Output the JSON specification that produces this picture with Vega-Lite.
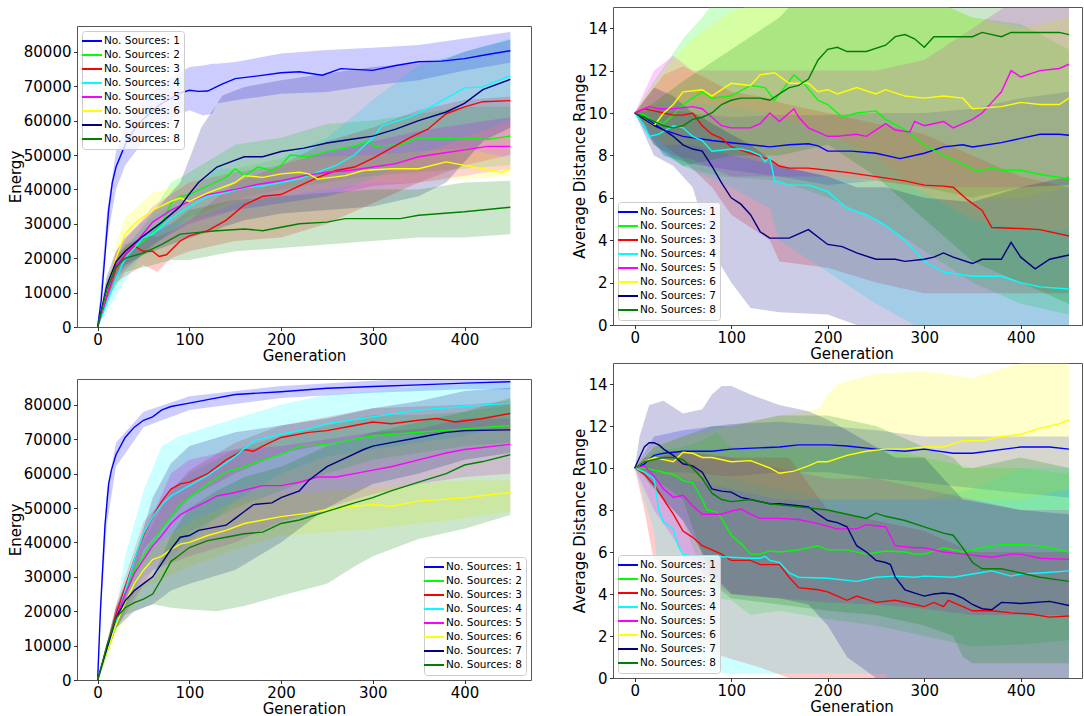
{
"$schema":"https://vega.github.io/schema/vega-lite/v6.json",
"padding":{"left":7,"top":6,"right":0,"bottom":0},
"background":"white",
"config":{
"font":"DejaVu Sans",
"view":{"stroke":"#555555","strokeWidth":1,"fill":"white"},
"axis":{"labelFont":"DejaVu Sans","labelFontSize":15,"labelColor":"#000","titleFont":"DejaVu Sans","titleFontSize":15,"titleFontWeight":"normal","titleColor":"#000","tickColor":"#000","tickSize":3.5,"tickWidth":0.8,"labelPadding":2.5,"domain":false,"grid":false,"labelFlush":false,"labelOverlap":false},
"axisX":{"titlePadding":1,"labelPadding":1.5},
"axisY":{"titlePadding":0},
"legend":{"labelFont":"DejaVu Sans","labelFontSize":10.5,"labelColor":"#000","fillColor":"rgba(255,255,255,0.8)","strokeColor":"#cccccc","cornerRadius":3,"padding":4,"rowPadding":2,"symbolType":"M-2,0H2","symbolSize":100,"symbolStrokeWidth":2,"labelOffset":6}
},
"datasets":{
"lines":[
{"p":"a","s":1,"g":0,"v":0},{"p":"a","s":1,"g":4,"v":8000},{"p":"a","s":1,"g":8,"v":21000},{"p":"a","s":1,"g":12,"v":34000},{"p":"a","s":1,"g":16,"v":42000},{"p":"a","s":1,"g":20,"v":46500},{"p":"a","s":1,"g":30,"v":53000},{"p":"a","s":1,"g":40,"v":57500},{"p":"a","s":1,"g":50,"v":60500},{"p":"a","s":1,"g":60,"v":63000},{"p":"a","s":1,"g":70,"v":65000},{"p":"a","s":1,"g":80,"v":66500},{"p":"a","s":1,"g":90,"v":68000},{"p":"a","s":1,"g":100,"v":68800},{"p":"a","s":1,"g":110,"v":68500},{"p":"a","s":1,"g":120,"v":68600},{"p":"a","s":1,"g":135,"v":70500},{"p":"a","s":1,"g":150,"v":72200},{"p":"a","s":1,"g":175,"v":73000},{"p":"a","s":1,"g":200,"v":73900},{"p":"a","s":1,"g":220,"v":74200},{"p":"a","s":1,"g":245,"v":73200},{"p":"a","s":1,"g":265,"v":75100},{"p":"a","s":1,"g":300,"v":74600},{"p":"a","s":1,"g":325,"v":76000},{"p":"a","s":1,"g":350,"v":77100},{"p":"a","s":1,"g":375,"v":77300},{"p":"a","s":1,"g":400,"v":78000},{"p":"a","s":1,"g":425,"v":79200},{"p":"a","s":1,"g":450,"v":80300},
{"p":"a","s":2,"g":0,"v":0},{"p":"a","s":2,"g":10,"v":11000},{"p":"a","s":2,"g":20,"v":18000},{"p":"a","s":2,"g":30,"v":21000},{"p":"a","s":2,"g":50,"v":25000},{"p":"a","s":2,"g":70,"v":30000},{"p":"a","s":2,"g":80,"v":36000},{"p":"a","s":2,"g":90,"v":38000},{"p":"a","s":2,"g":100,"v":38500},{"p":"a","s":2,"g":120,"v":41000},{"p":"a","s":2,"g":140,"v":43500},{"p":"a","s":2,"g":150,"v":46000},{"p":"a","s":2,"g":160,"v":44000},{"p":"a","s":2,"g":175,"v":46500},{"p":"a","s":2,"g":190,"v":45500},{"p":"a","s":2,"g":200,"v":47000},{"p":"a","s":2,"g":210,"v":50000},{"p":"a","s":2,"g":230,"v":49500},{"p":"a","s":2,"g":250,"v":51000},{"p":"a","s":2,"g":280,"v":52500},{"p":"a","s":2,"g":295,"v":54000},{"p":"a","s":2,"g":302,"v":52500},{"p":"a","s":2,"g":330,"v":53000},{"p":"a","s":2,"g":350,"v":55000},{"p":"a","s":2,"g":375,"v":54800},{"p":"a","s":2,"g":400,"v":55000},{"p":"a","s":2,"g":425,"v":54500},{"p":"a","s":2,"g":450,"v":55500},
{"p":"a","s":3,"g":0,"v":0},{"p":"a","s":3,"g":10,"v":9000},{"p":"a","s":3,"g":20,"v":17000},{"p":"a","s":3,"g":30,"v":21000},{"p":"a","s":3,"g":40,"v":23500},{"p":"a","s":3,"g":50,"v":22000},{"p":"a","s":3,"g":60,"v":22000},{"p":"a","s":3,"g":67,"v":20500},{"p":"a","s":3,"g":75,"v":21000},{"p":"a","s":3,"g":90,"v":25000},{"p":"a","s":3,"g":100,"v":26500},{"p":"a","s":3,"g":120,"v":28000},{"p":"a","s":3,"g":140,"v":31000},{"p":"a","s":3,"g":160,"v":35500},{"p":"a","s":3,"g":180,"v":38000},{"p":"a","s":3,"g":200,"v":38500},{"p":"a","s":3,"g":220,"v":41000},{"p":"a","s":3,"g":240,"v":43500},{"p":"a","s":3,"g":260,"v":45500},{"p":"a","s":3,"g":280,"v":46500},{"p":"a","s":3,"g":300,"v":49000},{"p":"a","s":3,"g":320,"v":52000},{"p":"a","s":3,"g":340,"v":55000},{"p":"a","s":3,"g":360,"v":57500},{"p":"a","s":3,"g":380,"v":62000},{"p":"a","s":3,"g":400,"v":64000},{"p":"a","s":3,"g":420,"v":65500},{"p":"a","s":3,"g":450,"v":65800},
{"p":"a","s":4,"g":0,"v":0},{"p":"a","s":4,"g":10,"v":7000},{"p":"a","s":4,"g":20,"v":14000},{"p":"a","s":4,"g":30,"v":20000},{"p":"a","s":4,"g":50,"v":26000},{"p":"a","s":4,"g":60,"v":27000},{"p":"a","s":4,"g":80,"v":31500},{"p":"a","s":4,"g":100,"v":35000},{"p":"a","s":4,"g":120,"v":38000},{"p":"a","s":4,"g":140,"v":39000},{"p":"a","s":4,"g":160,"v":40500},{"p":"a","s":4,"g":180,"v":41000},{"p":"a","s":4,"g":200,"v":42000},{"p":"a","s":4,"g":220,"v":43000},{"p":"a","s":4,"g":240,"v":45000},{"p":"a","s":4,"g":260,"v":47000},{"p":"a","s":4,"g":280,"v":50000},{"p":"a","s":4,"g":300,"v":55000},{"p":"a","s":4,"g":310,"v":58500},{"p":"a","s":4,"g":340,"v":61000},{"p":"a","s":4,"g":360,"v":63500},{"p":"a","s":4,"g":380,"v":66500},{"p":"a","s":4,"g":400,"v":69500},{"p":"a","s":4,"g":420,"v":69800},{"p":"a","s":4,"g":440,"v":72000},{"p":"a","s":4,"g":450,"v":73000},
{"p":"a","s":5,"g":0,"v":0},{"p":"a","s":5,"g":10,"v":9000},{"p":"a","s":5,"g":20,"v":18000},{"p":"a","s":5,"g":40,"v":24000},{"p":"a","s":5,"g":60,"v":30500},{"p":"a","s":5,"g":80,"v":34000},{"p":"a","s":5,"g":100,"v":36500},{"p":"a","s":5,"g":120,"v":38500},{"p":"a","s":5,"g":150,"v":40000},{"p":"a","s":5,"g":175,"v":41500},{"p":"a","s":5,"g":200,"v":42500},{"p":"a","s":5,"g":225,"v":44000},{"p":"a","s":5,"g":250,"v":45000},{"p":"a","s":5,"g":275,"v":45500},{"p":"a","s":5,"g":300,"v":46500},{"p":"a","s":5,"g":325,"v":47500},{"p":"a","s":5,"g":350,"v":49500},{"p":"a","s":5,"g":375,"v":50500},{"p":"a","s":5,"g":400,"v":51500},{"p":"a","s":5,"g":425,"v":52500},{"p":"a","s":5,"g":450,"v":52500},
{"p":"a","s":6,"g":0,"v":0},{"p":"a","s":6,"g":10,"v":11000},{"p":"a","s":6,"g":20,"v":20000},{"p":"a","s":6,"g":30,"v":27000},{"p":"a","s":6,"g":40,"v":30000},{"p":"a","s":6,"g":60,"v":34000},{"p":"a","s":6,"g":80,"v":36500},{"p":"a","s":6,"g":90,"v":37500},{"p":"a","s":6,"g":100,"v":36500},{"p":"a","s":6,"g":120,"v":39000},{"p":"a","s":6,"g":150,"v":42000},{"p":"a","s":6,"g":160,"v":44000},{"p":"a","s":6,"g":180,"v":43500},{"p":"a","s":6,"g":200,"v":44500},{"p":"a","s":6,"g":220,"v":45000},{"p":"a","s":6,"g":230,"v":44500},{"p":"a","s":6,"g":240,"v":43000},{"p":"a","s":6,"g":270,"v":44000},{"p":"a","s":6,"g":290,"v":45500},{"p":"a","s":6,"g":320,"v":46000},{"p":"a","s":6,"g":350,"v":46000},{"p":"a","s":6,"g":380,"v":48000},{"p":"a","s":6,"g":390,"v":47500},{"p":"a","s":6,"g":420,"v":46000},{"p":"a","s":6,"g":440,"v":45000},{"p":"a","s":6,"g":450,"v":46000},
{"p":"a","s":7,"g":0,"v":0},{"p":"a","s":7,"g":10,"v":12000},{"p":"a","s":7,"g":20,"v":19000},{"p":"a","s":7,"g":30,"v":22000},{"p":"a","s":7,"g":50,"v":26500},{"p":"a","s":7,"g":70,"v":30500},{"p":"a","s":7,"g":90,"v":35000},{"p":"a","s":7,"g":100,"v":38700},{"p":"a","s":7,"g":110,"v":42000},{"p":"a","s":7,"g":130,"v":46500},{"p":"a","s":7,"g":150,"v":48500},{"p":"a","s":7,"g":160,"v":49500},{"p":"a","s":7,"g":180,"v":49500},{"p":"a","s":7,"g":200,"v":51000},{"p":"a","s":7,"g":225,"v":52000},{"p":"a","s":7,"g":250,"v":53500},{"p":"a","s":7,"g":275,"v":54500},{"p":"a","s":7,"g":300,"v":55500},{"p":"a","s":7,"g":325,"v":57500},{"p":"a","s":7,"g":350,"v":60000},{"p":"a","s":7,"g":380,"v":62500},{"p":"a","s":7,"g":400,"v":65000},{"p":"a","s":7,"g":420,"v":69000},{"p":"a","s":7,"g":450,"v":72000},
{"p":"a","s":8,"g":0,"v":0},{"p":"a","s":8,"g":10,"v":11000},{"p":"a","s":8,"g":20,"v":17500},{"p":"a","s":8,"g":30,"v":20000},{"p":"a","s":8,"g":50,"v":21500},{"p":"a","s":8,"g":70,"v":24000},{"p":"a","s":8,"g":90,"v":27000},{"p":"a","s":8,"g":110,"v":27500},{"p":"a","s":8,"g":130,"v":28000},{"p":"a","s":8,"g":160,"v":28500},{"p":"a","s":8,"g":180,"v":28000},{"p":"a","s":8,"g":200,"v":29000},{"p":"a","s":8,"g":220,"v":30000},{"p":"a","s":8,"g":250,"v":30500},{"p":"a","s":8,"g":270,"v":31500},{"p":"a","s":8,"g":300,"v":31500},{"p":"a","s":8,"g":330,"v":31500},{"p":"a","s":8,"g":350,"v":32500},{"p":"a","s":8,"g":400,"v":33500},{"p":"a","s":8,"g":450,"v":34800},
{"p":"b","s":1,"g":0,"v":10},{"p":"b","s":1,"g":10,"v":9.8},{"p":"b","s":1,"g":20,"v":9.5},{"p":"b","s":1,"g":30,"v":9.2},{"p":"b","s":1,"g":50,"v":8.9},{"p":"b","s":1,"g":80,"v":8.7},{"p":"b","s":1,"g":100,"v":8.6},{"p":"b","s":1,"g":120,"v":8.5},{"p":"b","s":1,"g":140,"v":8.4},{"p":"b","s":1,"g":160,"v":8.5},{"p":"b","s":1,"g":180,"v":8.55},{"p":"b","s":1,"g":190,"v":8.45},{"p":"b","s":1,"g":200,"v":8.2},{"p":"b","s":1,"g":225,"v":8.2},{"p":"b","s":1,"g":250,"v":8.1},{"p":"b","s":1,"g":275,"v":7.85},{"p":"b","s":1,"g":300,"v":8.1},{"p":"b","s":1,"g":320,"v":8.4},{"p":"b","s":1,"g":340,"v":8.5},{"p":"b","s":1,"g":350,"v":8.4},{"p":"b","s":1,"g":380,"v":8.6},{"p":"b","s":1,"g":400,"v":8.8},{"p":"b","s":1,"g":420,"v":9.0},{"p":"b","s":1,"g":440,"v":9.0},{"p":"b","s":1,"g":450,"v":8.95},
{"p":"b","s":2,"g":0,"v":10},{"p":"b","s":2,"g":10,"v":9.9},{"p":"b","s":2,"g":20,"v":9.6},{"p":"b","s":2,"g":30,"v":9.5},{"p":"b","s":2,"g":40,"v":9.9},{"p":"b","s":2,"g":50,"v":10.4},{"p":"b","s":2,"g":60,"v":10.7},{"p":"b","s":2,"g":70,"v":11.0},{"p":"b","s":2,"g":80,"v":10.7},{"p":"b","s":2,"g":100,"v":10.8},{"p":"b","s":2,"g":120,"v":11.3},{"p":"b","s":2,"g":135,"v":11.2},{"p":"b","s":2,"g":145,"v":10.6},{"p":"b","s":2,"g":155,"v":11.2},{"p":"b","s":2,"g":165,"v":11.8},{"p":"b","s":2,"g":175,"v":11.4},{"p":"b","s":2,"g":190,"v":10.6},{"p":"b","s":2,"g":200,"v":10.4},{"p":"b","s":2,"g":215,"v":9.8},{"p":"b","s":2,"g":230,"v":10.0},{"p":"b","s":2,"g":250,"v":10.1},{"p":"b","s":2,"g":260,"v":9.7},{"p":"b","s":2,"g":280,"v":9.2},{"p":"b","s":2,"g":300,"v":8.5},{"p":"b","s":2,"g":320,"v":8.0},{"p":"b","s":2,"g":340,"v":7.6},{"p":"b","s":2,"g":355,"v":7.25},{"p":"b","s":2,"g":370,"v":7.4},{"p":"b","s":2,"g":380,"v":7.3},{"p":"b","s":2,"g":400,"v":7.3},{"p":"b","s":2,"g":420,"v":7.1},{"p":"b","s":2,"g":450,"v":6.9},
{"p":"b","s":3,"g":0,"v":10},{"p":"b","s":3,"g":10,"v":10.2},{"p":"b","s":3,"g":20,"v":10.1},{"p":"b","s":3,"g":30,"v":10.0},{"p":"b","s":3,"g":40,"v":9.9},{"p":"b","s":3,"g":50,"v":9.9},{"p":"b","s":3,"g":60,"v":10.0},{"p":"b","s":3,"g":70,"v":9.4},{"p":"b","s":3,"g":80,"v":9.0},{"p":"b","s":3,"g":90,"v":8.8},{"p":"b","s":3,"g":100,"v":8.4},{"p":"b","s":3,"g":120,"v":8.1},{"p":"b","s":3,"g":140,"v":7.8},{"p":"b","s":3,"g":150,"v":7.5},{"p":"b","s":3,"g":160,"v":7.4},{"p":"b","s":3,"g":180,"v":7.4},{"p":"b","s":3,"g":200,"v":7.3},{"p":"b","s":3,"g":220,"v":7.2},{"p":"b","s":3,"g":250,"v":7.0},{"p":"b","s":3,"g":280,"v":6.8},{"p":"b","s":3,"g":300,"v":6.6},{"p":"b","s":3,"g":320,"v":6.55},{"p":"b","s":3,"g":330,"v":6.5},{"p":"b","s":3,"g":345,"v":5.9},{"p":"b","s":3,"g":360,"v":5.4},{"p":"b","s":3,"g":370,"v":4.6},{"p":"b","s":3,"g":400,"v":4.55},{"p":"b","s":3,"g":420,"v":4.5},{"p":"b","s":3,"g":450,"v":4.2},
{"p":"b","s":4,"g":0,"v":10},{"p":"b","s":4,"g":10,"v":9.4},{"p":"b","s":4,"g":15,"v":8.9},{"p":"b","s":4,"g":25,"v":9.0},{"p":"b","s":4,"g":40,"v":9.4},{"p":"b","s":4,"g":50,"v":9.3},{"p":"b","s":4,"g":60,"v":8.9},{"p":"b","s":4,"g":70,"v":8.7},{"p":"b","s":4,"g":80,"v":8.2},{"p":"b","s":4,"g":100,"v":8.3},{"p":"b","s":4,"g":110,"v":8.3},{"p":"b","s":4,"g":120,"v":8.2},{"p":"b","s":4,"g":130,"v":8.0},{"p":"b","s":4,"g":135,"v":7.7},{"p":"b","s":4,"g":140,"v":7.9},{"p":"b","s":4,"g":145,"v":6.8},{"p":"b","s":4,"g":160,"v":6.6},{"p":"b","s":4,"g":180,"v":6.6},{"p":"b","s":4,"g":200,"v":6.3},{"p":"b","s":4,"g":220,"v":5.5},{"p":"b","s":4,"g":240,"v":5.2},{"p":"b","s":4,"g":260,"v":4.7},{"p":"b","s":4,"g":280,"v":4.0},{"p":"b","s":4,"g":300,"v":3.0},{"p":"b","s":4,"g":320,"v":2.5},{"p":"b","s":4,"g":350,"v":2.3},{"p":"b","s":4,"g":380,"v":2.3},{"p":"b","s":4,"g":400,"v":2.0},{"p":"b","s":4,"g":420,"v":1.8},{"p":"b","s":4,"g":450,"v":1.7},
{"p":"b","s":5,"g":0,"v":10},{"p":"b","s":5,"g":10,"v":10.2},{"p":"b","s":5,"g":15,"v":10.3},{"p":"b","s":5,"g":25,"v":10.2},{"p":"b","s":5,"g":40,"v":10.2},{"p":"b","s":5,"g":60,"v":10.3},{"p":"b","s":5,"g":70,"v":10.2},{"p":"b","s":5,"g":80,"v":9.8},{"p":"b","s":5,"g":90,"v":9.4},{"p":"b","s":5,"g":100,"v":9.3},{"p":"b","s":5,"g":120,"v":9.3},{"p":"b","s":5,"g":130,"v":9.5},{"p":"b","s":5,"g":140,"v":10.0},{"p":"b","s":5,"g":150,"v":9.6},{"p":"b","s":5,"g":165,"v":10.2},{"p":"b","s":5,"g":170,"v":9.8},{"p":"b","s":5,"g":180,"v":9.3},{"p":"b","s":5,"g":200,"v":8.9},{"p":"b","s":5,"g":210,"v":8.9},{"p":"b","s":5,"g":230,"v":9.0},{"p":"b","s":5,"g":240,"v":8.9},{"p":"b","s":5,"g":260,"v":9.5},{"p":"b","s":5,"g":270,"v":9.2},{"p":"b","s":5,"g":285,"v":9.1},{"p":"b","s":5,"g":290,"v":9.6},{"p":"b","s":5,"g":300,"v":9.4},{"p":"b","s":5,"g":320,"v":9.6},{"p":"b","s":5,"g":330,"v":9.3},{"p":"b","s":5,"g":350,"v":9.7},{"p":"b","s":5,"g":360,"v":10.0},{"p":"b","s":5,"g":370,"v":10.5},{"p":"b","s":5,"g":380,"v":11.0},{"p":"b","s":5,"g":390,"v":12.0},{"p":"b","s":5,"g":400,"v":11.7},{"p":"b","s":5,"g":420,"v":12.0},{"p":"b","s":5,"g":440,"v":12.1},{"p":"b","s":5,"g":450,"v":12.3},
{"p":"b","s":6,"g":0,"v":10},{"p":"b","s":6,"g":10,"v":9.7},{"p":"b","s":6,"g":20,"v":9.4},{"p":"b","s":6,"g":30,"v":10.0},{"p":"b","s":6,"g":40,"v":10.4},{"p":"b","s":6,"g":50,"v":11.0},{"p":"b","s":6,"g":70,"v":11.1},{"p":"b","s":6,"g":80,"v":10.8},{"p":"b","s":6,"g":90,"v":11.1},{"p":"b","s":6,"g":100,"v":11.4},{"p":"b","s":6,"g":120,"v":11.3},{"p":"b","s":6,"g":130,"v":11.8},{"p":"b","s":6,"g":145,"v":11.9},{"p":"b","s":6,"g":160,"v":11.4},{"p":"b","s":6,"g":180,"v":11.4},{"p":"b","s":6,"g":190,"v":11.0},{"p":"b","s":6,"g":200,"v":11.1},{"p":"b","s":6,"g":210,"v":10.9},{"p":"b","s":6,"g":230,"v":11.2},{"p":"b","s":6,"g":250,"v":10.9},{"p":"b","s":6,"g":260,"v":11.1},{"p":"b","s":6,"g":280,"v":10.8},{"p":"b","s":6,"g":300,"v":10.7},{"p":"b","s":6,"g":320,"v":10.8},{"p":"b","s":6,"g":340,"v":10.7},{"p":"b","s":6,"g":350,"v":10.2},{"p":"b","s":6,"g":380,"v":10.3},{"p":"b","s":6,"g":400,"v":10.5},{"p":"b","s":6,"g":420,"v":10.4},{"p":"b","s":6,"g":440,"v":10.4},{"p":"b","s":6,"g":450,"v":10.7},
{"p":"b","s":7,"g":0,"v":10},{"p":"b","s":7,"g":10,"v":9.7},{"p":"b","s":7,"g":20,"v":9.4},{"p":"b","s":7,"g":30,"v":9.2},{"p":"b","s":7,"g":40,"v":8.9},{"p":"b","s":7,"g":50,"v":8.5},{"p":"b","s":7,"g":60,"v":8.3},{"p":"b","s":7,"g":70,"v":8.2},{"p":"b","s":7,"g":80,"v":7.5},{"p":"b","s":7,"g":90,"v":6.7},{"p":"b","s":7,"g":100,"v":6.0},{"p":"b","s":7,"g":110,"v":5.7},{"p":"b","s":7,"g":120,"v":5.2},{"p":"b","s":7,"g":130,"v":4.4},{"p":"b","s":7,"g":140,"v":4.1},{"p":"b","s":7,"g":160,"v":4.1},{"p":"b","s":7,"g":180,"v":4.5},{"p":"b","s":7,"g":200,"v":3.8},{"p":"b","s":7,"g":215,"v":3.7},{"p":"b","s":7,"g":230,"v":3.4},{"p":"b","s":7,"g":250,"v":3.1},{"p":"b","s":7,"g":270,"v":3.1},{"p":"b","s":7,"g":280,"v":3.0},{"p":"b","s":7,"g":300,"v":3.1},{"p":"b","s":7,"g":310,"v":3.2},{"p":"b","s":7,"g":320,"v":3.4},{"p":"b","s":7,"g":330,"v":3.2},{"p":"b","s":7,"g":350,"v":2.9},{"p":"b","s":7,"g":360,"v":3.1},{"p":"b","s":7,"g":380,"v":3.1},{"p":"b","s":7,"g":390,"v":3.9},{"p":"b","s":7,"g":400,"v":3.2},{"p":"b","s":7,"g":415,"v":2.65},{"p":"b","s":7,"g":430,"v":3.1},{"p":"b","s":7,"g":450,"v":3.3},
{"p":"b","s":8,"g":0,"v":10},{"p":"b","s":8,"g":10,"v":9.8},{"p":"b","s":8,"g":20,"v":9.6},{"p":"b","s":8,"g":30,"v":9.4},{"p":"b","s":8,"g":40,"v":9.3},{"p":"b","s":8,"g":50,"v":9.4},{"p":"b","s":8,"g":60,"v":9.7},{"p":"b","s":8,"g":70,"v":9.8},{"p":"b","s":8,"g":80,"v":10.0},{"p":"b","s":8,"g":90,"v":10.4},{"p":"b","s":8,"g":100,"v":10.6},{"p":"b","s":8,"g":110,"v":10.7},{"p":"b","s":8,"g":130,"v":10.7},{"p":"b","s":8,"g":140,"v":10.6},{"p":"b","s":8,"g":150,"v":10.9},{"p":"b","s":8,"g":160,"v":11.2},{"p":"b","s":8,"g":170,"v":11.3},{"p":"b","s":8,"g":180,"v":11.6},{"p":"b","s":8,"g":190,"v":12.5},{"p":"b","s":8,"g":200,"v":13.0},{"p":"b","s":8,"g":210,"v":13.1},{"p":"b","s":8,"g":220,"v":12.9},{"p":"b","s":8,"g":240,"v":12.9},{"p":"b","s":8,"g":260,"v":13.2},{"p":"b","s":8,"g":270,"v":13.6},{"p":"b","s":8,"g":280,"v":13.7},{"p":"b","s":8,"g":290,"v":13.5},{"p":"b","s":8,"g":300,"v":13.1},{"p":"b","s":8,"g":310,"v":13.6},{"p":"b","s":8,"g":330,"v":13.6},{"p":"b","s":8,"g":350,"v":13.6},{"p":"b","s":8,"g":360,"v":13.8},{"p":"b","s":8,"g":380,"v":13.6},{"p":"b","s":8,"g":390,"v":13.8},{"p":"b","s":8,"g":420,"v":13.8},{"p":"b","s":8,"g":440,"v":13.8},{"p":"b","s":8,"g":450,"v":13.7},
{"p":"c","s":1,"g":0,"v":0},{"p":"c","s":1,"g":3,"v":20000},{"p":"c","s":1,"g":5,"v":30000},{"p":"c","s":1,"g":8,"v":45000},{"p":"c","s":1,"g":12,"v":57000},{"p":"c","s":1,"g":15,"v":61000},{"p":"c","s":1,"g":20,"v":65500},{"p":"c","s":1,"g":30,"v":70500},{"p":"c","s":1,"g":40,"v":73500},{"p":"c","s":1,"g":50,"v":75500},{"p":"c","s":1,"g":60,"v":76500},{"p":"c","s":1,"g":70,"v":78500},{"p":"c","s":1,"g":80,"v":79500},{"p":"c","s":1,"g":100,"v":80500},{"p":"c","s":1,"g":120,"v":81500},{"p":"c","s":1,"g":150,"v":83000},{"p":"c","s":1,"g":200,"v":83800},{"p":"c","s":1,"g":250,"v":84800},{"p":"c","s":1,"g":300,"v":85300},{"p":"c","s":1,"g":350,"v":85800},{"p":"c","s":1,"g":400,"v":86300},{"p":"c","s":1,"g":450,"v":86700},
{"p":"c","s":2,"g":0,"v":0},{"p":"c","s":2,"g":10,"v":9000},{"p":"c","s":2,"g":20,"v":18000},{"p":"c","s":2,"g":30,"v":25000},{"p":"c","s":2,"g":40,"v":32000},{"p":"c","s":2,"g":50,"v":36000},{"p":"c","s":2,"g":60,"v":40000},{"p":"c","s":2,"g":70,"v":44000},{"p":"c","s":2,"g":80,"v":47500},{"p":"c","s":2,"g":90,"v":51000},{"p":"c","s":2,"g":100,"v":53000},{"p":"c","s":2,"g":120,"v":57000},{"p":"c","s":2,"g":140,"v":60500},{"p":"c","s":2,"g":160,"v":62000},{"p":"c","s":2,"g":180,"v":64000},{"p":"c","s":2,"g":200,"v":65500},{"p":"c","s":2,"g":220,"v":68000},{"p":"c","s":2,"g":250,"v":68500},{"p":"c","s":2,"g":270,"v":69500},{"p":"c","s":2,"g":300,"v":71000},{"p":"c","s":2,"g":350,"v":72000},{"p":"c","s":2,"g":400,"v":73000},{"p":"c","s":2,"g":450,"v":74000},
{"p":"c","s":3,"g":0,"v":0},{"p":"c","s":3,"g":10,"v":9000},{"p":"c","s":3,"g":20,"v":19000},{"p":"c","s":3,"g":30,"v":27000},{"p":"c","s":3,"g":40,"v":35000},{"p":"c","s":3,"g":50,"v":42000},{"p":"c","s":3,"g":60,"v":47500},{"p":"c","s":3,"g":70,"v":52000},{"p":"c","s":3,"g":80,"v":55500},{"p":"c","s":3,"g":90,"v":57000},{"p":"c","s":3,"g":100,"v":57500},{"p":"c","s":3,"g":120,"v":60000},{"p":"c","s":3,"g":140,"v":64000},{"p":"c","s":3,"g":160,"v":67000},{"p":"c","s":3,"g":170,"v":66500},{"p":"c","s":3,"g":180,"v":68000},{"p":"c","s":3,"g":200,"v":70500},{"p":"c","s":3,"g":230,"v":72000},{"p":"c","s":3,"g":250,"v":72500},{"p":"c","s":3,"g":280,"v":74000},{"p":"c","s":3,"g":300,"v":75000},{"p":"c","s":3,"g":320,"v":74500},{"p":"c","s":3,"g":350,"v":75500},{"p":"c","s":3,"g":370,"v":76000},{"p":"c","s":3,"g":390,"v":75000},{"p":"c","s":3,"g":420,"v":76000},{"p":"c","s":3,"g":450,"v":77500},
{"p":"c","s":4,"g":0,"v":0},{"p":"c","s":4,"g":10,"v":8000},{"p":"c","s":4,"g":20,"v":17000},{"p":"c","s":4,"g":30,"v":26000},{"p":"c","s":4,"g":40,"v":35000},{"p":"c","s":4,"g":50,"v":42500},{"p":"c","s":4,"g":60,"v":47500},{"p":"c","s":4,"g":70,"v":51000},{"p":"c","s":4,"g":80,"v":53500},{"p":"c","s":4,"g":100,"v":56500},{"p":"c","s":4,"g":120,"v":59500},{"p":"c","s":4,"g":150,"v":65000},{"p":"c","s":4,"g":170,"v":69500},{"p":"c","s":4,"g":200,"v":71500},{"p":"c","s":4,"g":230,"v":73000},{"p":"c","s":4,"g":250,"v":74500},{"p":"c","s":4,"g":300,"v":76500},{"p":"c","s":4,"g":350,"v":78500},{"p":"c","s":4,"g":400,"v":79500},{"p":"c","s":4,"g":450,"v":80500},
{"p":"c","s":5,"g":0,"v":0},{"p":"c","s":5,"g":10,"v":9000},{"p":"c","s":5,"g":20,"v":18000},{"p":"c","s":5,"g":30,"v":25000},{"p":"c","s":5,"g":40,"v":31000},{"p":"c","s":5,"g":50,"v":35000},{"p":"c","s":5,"g":60,"v":39000},{"p":"c","s":5,"g":70,"v":42000},{"p":"c","s":5,"g":80,"v":45500},{"p":"c","s":5,"g":90,"v":48000},{"p":"c","s":5,"g":100,"v":49500},{"p":"c","s":5,"g":120,"v":52000},{"p":"c","s":5,"g":130,"v":53500},{"p":"c","s":5,"g":150,"v":54500},{"p":"c","s":5,"g":180,"v":56500},{"p":"c","s":5,"g":200,"v":56500},{"p":"c","s":5,"g":220,"v":57500},{"p":"c","s":5,"g":240,"v":59000},{"p":"c","s":5,"g":260,"v":59000},{"p":"c","s":5,"g":280,"v":60000},{"p":"c","s":5,"g":300,"v":61000},{"p":"c","s":5,"g":320,"v":62000},{"p":"c","s":5,"g":350,"v":64000},{"p":"c","s":5,"g":380,"v":66000},{"p":"c","s":5,"g":400,"v":67000},{"p":"c","s":5,"g":450,"v":68500},
{"p":"c","s":6,"g":0,"v":0},{"p":"c","s":6,"g":10,"v":8000},{"p":"c","s":6,"g":20,"v":16000},{"p":"c","s":6,"g":30,"v":22500},{"p":"c","s":6,"g":40,"v":28000},{"p":"c","s":6,"g":50,"v":32000},{"p":"c","s":6,"g":60,"v":35000},{"p":"c","s":6,"g":70,"v":36000},{"p":"c","s":6,"g":80,"v":38000},{"p":"c","s":6,"g":90,"v":39500},{"p":"c","s":6,"g":100,"v":40000},{"p":"c","s":6,"g":120,"v":42000},{"p":"c","s":6,"g":140,"v":43500},{"p":"c","s":6,"g":160,"v":45500},{"p":"c","s":6,"g":180,"v":46500},{"p":"c","s":6,"g":200,"v":47500},{"p":"c","s":6,"g":230,"v":48500},{"p":"c","s":6,"g":250,"v":49500},{"p":"c","s":6,"g":280,"v":50500},{"p":"c","s":6,"g":300,"v":51000},{"p":"c","s":6,"g":320,"v":50500},{"p":"c","s":6,"g":350,"v":52000},{"p":"c","s":6,"g":400,"v":53000},{"p":"c","s":6,"g":450,"v":54500},
{"p":"c","s":7,"g":0,"v":0},{"p":"c","s":7,"g":10,"v":9000},{"p":"c","s":7,"g":20,"v":18000},{"p":"c","s":7,"g":30,"v":23000},{"p":"c","s":7,"g":40,"v":26000},{"p":"c","s":7,"g":50,"v":28000},{"p":"c","s":7,"g":60,"v":30000},{"p":"c","s":7,"g":70,"v":34000},{"p":"c","s":7,"g":80,"v":38000},{"p":"c","s":7,"g":90,"v":41500},{"p":"c","s":7,"g":100,"v":42000},{"p":"c","s":7,"g":110,"v":43500},{"p":"c","s":7,"g":120,"v":44000},{"p":"c","s":7,"g":140,"v":45000},{"p":"c","s":7,"g":150,"v":47000},{"p":"c","s":7,"g":160,"v":49000},{"p":"c","s":7,"g":170,"v":51000},{"p":"c","s":7,"g":190,"v":51500},{"p":"c","s":7,"g":200,"v":53000},{"p":"c","s":7,"g":220,"v":55000},{"p":"c","s":7,"g":230,"v":58000},{"p":"c","s":7,"g":250,"v":62000},{"p":"c","s":7,"g":270,"v":64500},{"p":"c","s":7,"g":290,"v":67000},{"p":"c","s":7,"g":300,"v":68000},{"p":"c","s":7,"g":320,"v":69000},{"p":"c","s":7,"g":340,"v":70000},{"p":"c","s":7,"g":360,"v":71000},{"p":"c","s":7,"g":380,"v":72000},{"p":"c","s":7,"g":400,"v":72500},{"p":"c","s":7,"g":450,"v":72700},
{"p":"c","s":8,"g":0,"v":0},{"p":"c","s":8,"g":10,"v":10000},{"p":"c","s":8,"g":20,"v":18000},{"p":"c","s":8,"g":30,"v":21000},{"p":"c","s":8,"g":40,"v":22500},{"p":"c","s":8,"g":50,"v":23500},{"p":"c","s":8,"g":60,"v":25000},{"p":"c","s":8,"g":70,"v":29500},{"p":"c","s":8,"g":80,"v":34500},{"p":"c","s":8,"g":90,"v":36500},{"p":"c","s":8,"g":100,"v":38500},{"p":"c","s":8,"g":120,"v":40500},{"p":"c","s":8,"g":140,"v":41500},{"p":"c","s":8,"g":160,"v":42500},{"p":"c","s":8,"g":180,"v":43000},{"p":"c","s":8,"g":200,"v":45500},{"p":"c","s":8,"g":220,"v":46500},{"p":"c","s":8,"g":250,"v":49000},{"p":"c","s":8,"g":280,"v":51500},{"p":"c","s":8,"g":300,"v":53000},{"p":"c","s":8,"g":320,"v":55000},{"p":"c","s":8,"g":350,"v":57500},{"p":"c","s":8,"g":380,"v":60000},{"p":"c","s":8,"g":400,"v":62500},{"p":"c","s":8,"g":420,"v":63500},{"p":"c","s":8,"g":450,"v":65500},
{"p":"d","s":1,"g":0,"v":10},{"p":"d","s":1,"g":10,"v":10.2},{"p":"d","s":1,"g":20,"v":10.6},{"p":"d","s":1,"g":30,"v":10.7},{"p":"d","s":1,"g":50,"v":10.8},{"p":"d","s":1,"g":80,"v":10.8},{"p":"d","s":1,"g":100,"v":10.9},{"p":"d","s":1,"g":150,"v":11.0},{"p":"d","s":1,"g":170,"v":11.1},{"p":"d","s":1,"g":200,"v":11.1},{"p":"d","s":1,"g":220,"v":11.05},{"p":"d","s":1,"g":250,"v":10.9},{"p":"d","s":1,"g":280,"v":10.8},{"p":"d","s":1,"g":300,"v":10.9},{"p":"d","s":1,"g":330,"v":10.7},{"p":"d","s":1,"g":350,"v":10.7},{"p":"d","s":1,"g":400,"v":11.0},{"p":"d","s":1,"g":430,"v":11.0},{"p":"d","s":1,"g":450,"v":10.9},
{"p":"d","s":2,"g":0,"v":10},{"p":"d","s":2,"g":10,"v":10.0},{"p":"d","s":2,"g":20,"v":9.9},{"p":"d","s":2,"g":30,"v":9.8},{"p":"d","s":2,"g":40,"v":9.7},{"p":"d","s":2,"g":50,"v":9.4},{"p":"d","s":2,"g":60,"v":9.3},{"p":"d","s":2,"g":70,"v":8.5},{"p":"d","s":2,"g":75,"v":8.0},{"p":"d","s":2,"g":85,"v":7.9},{"p":"d","s":2,"g":90,"v":7.6},{"p":"d","s":2,"g":100,"v":6.8},{"p":"d","s":2,"g":110,"v":6.4},{"p":"d","s":2,"g":120,"v":5.9},{"p":"d","s":2,"g":130,"v":5.9},{"p":"d","s":2,"g":140,"v":6.05},{"p":"d","s":2,"g":150,"v":6.0},{"p":"d","s":2,"g":170,"v":6.1},{"p":"d","s":2,"g":190,"v":6.3},{"p":"d","s":2,"g":200,"v":6.1},{"p":"d","s":2,"g":220,"v":6.1},{"p":"d","s":2,"g":240,"v":5.9},{"p":"d","s":2,"g":260,"v":6.05},{"p":"d","s":2,"g":280,"v":6.0},{"p":"d","s":2,"g":290,"v":5.9},{"p":"d","s":2,"g":300,"v":5.9},{"p":"d","s":2,"g":320,"v":6.2},{"p":"d","s":2,"g":340,"v":6.0},{"p":"d","s":2,"g":360,"v":6.2},{"p":"d","s":2,"g":380,"v":6.35},{"p":"d","s":2,"g":400,"v":6.35},{"p":"d","s":2,"g":420,"v":6.3},{"p":"d","s":2,"g":450,"v":6.0},
{"p":"d","s":3,"g":0,"v":10},{"p":"d","s":3,"g":10,"v":9.7},{"p":"d","s":3,"g":20,"v":9.2},{"p":"d","s":3,"g":30,"v":8.5},{"p":"d","s":3,"g":40,"v":7.8},{"p":"d","s":3,"g":50,"v":7.0},{"p":"d","s":3,"g":60,"v":6.7},{"p":"d","s":3,"g":70,"v":6.3},{"p":"d","s":3,"g":80,"v":6.1},{"p":"d","s":3,"g":90,"v":5.9},{"p":"d","s":3,"g":100,"v":5.6},{"p":"d","s":3,"g":120,"v":5.6},{"p":"d","s":3,"g":130,"v":5.4},{"p":"d","s":3,"g":150,"v":5.4},{"p":"d","s":3,"g":160,"v":4.8},{"p":"d","s":3,"g":170,"v":4.3},{"p":"d","s":3,"g":190,"v":4.2},{"p":"d","s":3,"g":200,"v":4.1},{"p":"d","s":3,"g":210,"v":3.9},{"p":"d","s":3,"g":220,"v":3.7},{"p":"d","s":3,"g":230,"v":3.9},{"p":"d","s":3,"g":250,"v":3.6},{"p":"d","s":3,"g":270,"v":3.7},{"p":"d","s":3,"g":290,"v":3.5},{"p":"d","s":3,"g":300,"v":3.4},{"p":"d","s":3,"g":310,"v":3.6},{"p":"d","s":3,"g":320,"v":3.4},{"p":"d","s":3,"g":325,"v":3.7},{"p":"d","s":3,"g":340,"v":3.4},{"p":"d","s":3,"g":350,"v":3.2},{"p":"d","s":3,"g":370,"v":3.2},{"p":"d","s":3,"g":390,"v":3.1},{"p":"d","s":3,"g":410,"v":3.05},{"p":"d","s":3,"g":430,"v":2.9},{"p":"d","s":3,"g":450,"v":2.95},
{"p":"d","s":4,"g":0,"v":10},{"p":"d","s":4,"g":10,"v":9.8},{"p":"d","s":4,"g":20,"v":9.5},{"p":"d","s":4,"g":25,"v":8.0},{"p":"d","s":4,"g":30,"v":7.4},{"p":"d","s":4,"g":40,"v":7.1},{"p":"d","s":4,"g":45,"v":6.3},{"p":"d","s":4,"g":50,"v":5.9},{"p":"d","s":4,"g":60,"v":5.8},{"p":"d","s":4,"g":80,"v":5.8},{"p":"d","s":4,"g":100,"v":5.75},{"p":"d","s":4,"g":120,"v":5.7},{"p":"d","s":4,"g":130,"v":5.7},{"p":"d","s":4,"g":135,"v":5.8},{"p":"d","s":4,"g":140,"v":5.6},{"p":"d","s":4,"g":150,"v":5.5},{"p":"d","s":4,"g":160,"v":5.0},{"p":"d","s":4,"g":170,"v":4.8},{"p":"d","s":4,"g":200,"v":4.75},{"p":"d","s":4,"g":230,"v":4.6},{"p":"d","s":4,"g":250,"v":4.8},{"p":"d","s":4,"g":270,"v":4.85},{"p":"d","s":4,"g":290,"v":4.8},{"p":"d","s":4,"g":300,"v":4.85},{"p":"d","s":4,"g":330,"v":4.8},{"p":"d","s":4,"g":350,"v":4.95},{"p":"d","s":4,"g":370,"v":5.1},{"p":"d","s":4,"g":390,"v":4.85},{"p":"d","s":4,"g":400,"v":4.95},{"p":"d","s":4,"g":420,"v":5.0},{"p":"d","s":4,"g":450,"v":5.1},
{"p":"d","s":5,"g":0,"v":10},{"p":"d","s":5,"g":10,"v":10.1},{"p":"d","s":5,"g":20,"v":9.6},{"p":"d","s":5,"g":30,"v":9.0},{"p":"d","s":5,"g":40,"v":8.6},{"p":"d","s":5,"g":50,"v":8.7},{"p":"d","s":5,"g":60,"v":8.2},{"p":"d","s":5,"g":70,"v":7.8},{"p":"d","s":5,"g":90,"v":7.8},{"p":"d","s":5,"g":100,"v":7.95},{"p":"d","s":5,"g":110,"v":8.05},{"p":"d","s":5,"g":120,"v":7.8},{"p":"d","s":5,"g":130,"v":7.6},{"p":"d","s":5,"g":150,"v":7.6},{"p":"d","s":5,"g":170,"v":7.55},{"p":"d","s":5,"g":190,"v":7.35},{"p":"d","s":5,"g":210,"v":7.1},{"p":"d","s":5,"g":230,"v":7.1},{"p":"d","s":5,"g":240,"v":7.3},{"p":"d","s":5,"g":260,"v":7.2},{"p":"d","s":5,"g":270,"v":6.3},{"p":"d","s":5,"g":290,"v":6.2},{"p":"d","s":5,"g":300,"v":6.2},{"p":"d","s":5,"g":320,"v":6.0},{"p":"d","s":5,"g":350,"v":5.85},{"p":"d","s":5,"g":370,"v":5.75},{"p":"d","s":5,"g":390,"v":5.9},{"p":"d","s":5,"g":400,"v":5.9},{"p":"d","s":5,"g":420,"v":5.7},{"p":"d","s":5,"g":450,"v":5.65},
{"p":"d","s":6,"g":0,"v":10},{"p":"d","s":6,"g":10,"v":10.3},{"p":"d","s":6,"g":20,"v":10.5},{"p":"d","s":6,"g":30,"v":10.4},{"p":"d","s":6,"g":40,"v":10.3},{"p":"d","s":6,"g":50,"v":10.75},{"p":"d","s":6,"g":60,"v":10.7},{"p":"d","s":6,"g":70,"v":10.5},{"p":"d","s":6,"g":80,"v":10.5},{"p":"d","s":6,"g":100,"v":10.3},{"p":"d","s":6,"g":120,"v":10.35},{"p":"d","s":6,"g":140,"v":10.0},{"p":"d","s":6,"g":150,"v":9.75},{"p":"d","s":6,"g":165,"v":9.85},{"p":"d","s":6,"g":180,"v":10.1},{"p":"d","s":6,"g":190,"v":10.3},{"p":"d","s":6,"g":200,"v":10.3},{"p":"d","s":6,"g":220,"v":10.6},{"p":"d","s":6,"g":240,"v":10.8},{"p":"d","s":6,"g":260,"v":10.9},{"p":"d","s":6,"g":280,"v":10.9},{"p":"d","s":6,"g":300,"v":11.0},{"p":"d","s":6,"g":320,"v":11.0},{"p":"d","s":6,"g":340,"v":11.3},{"p":"d","s":6,"g":360,"v":11.3},{"p":"d","s":6,"g":380,"v":11.5},{"p":"d","s":6,"g":400,"v":11.6},{"p":"d","s":6,"g":420,"v":11.9},{"p":"d","s":6,"g":440,"v":12.1},{"p":"d","s":6,"g":450,"v":12.3},
{"p":"d","s":7,"g":0,"v":10},{"p":"d","s":7,"g":5,"v":10.5},{"p":"d","s":7,"g":10,"v":11.0},{"p":"d","s":7,"g":15,"v":11.2},{"p":"d","s":7,"g":20,"v":11.2},{"p":"d","s":7,"g":25,"v":11.1},{"p":"d","s":7,"g":30,"v":10.9},{"p":"d","s":7,"g":40,"v":10.6},{"p":"d","s":7,"g":50,"v":10.2},{"p":"d","s":7,"g":60,"v":10.1},{"p":"d","s":7,"g":70,"v":9.8},{"p":"d","s":7,"g":80,"v":9.0},{"p":"d","s":7,"g":90,"v":8.9},{"p":"d","s":7,"g":100,"v":8.85},{"p":"d","s":7,"g":110,"v":8.6},{"p":"d","s":7,"g":120,"v":8.5},{"p":"d","s":7,"g":140,"v":8.3},{"p":"d","s":7,"g":150,"v":8.3},{"p":"d","s":7,"g":170,"v":8.2},{"p":"d","s":7,"g":180,"v":8.15},{"p":"d","s":7,"g":190,"v":7.8},{"p":"d","s":7,"g":200,"v":7.5},{"p":"d","s":7,"g":210,"v":7.4},{"p":"d","s":7,"g":220,"v":7.2},{"p":"d","s":7,"g":230,"v":6.3},{"p":"d","s":7,"g":240,"v":6.0},{"p":"d","s":7,"g":250,"v":5.6},{"p":"d","s":7,"g":260,"v":5.5},{"p":"d","s":7,"g":265,"v":5.4},{"p":"d","s":7,"g":270,"v":4.8},{"p":"d","s":7,"g":280,"v":4.2},{"p":"d","s":7,"g":300,"v":3.9},{"p":"d","s":7,"g":310,"v":4.0},{"p":"d","s":7,"g":320,"v":4.05},{"p":"d","s":7,"g":330,"v":4.0},{"p":"d","s":7,"g":340,"v":3.8},{"p":"d","s":7,"g":350,"v":3.5},{"p":"d","s":7,"g":360,"v":3.3},{"p":"d","s":7,"g":370,"v":3.25},{"p":"d","s":7,"g":380,"v":3.6},{"p":"d","s":7,"g":400,"v":3.55},{"p":"d","s":7,"g":430,"v":3.65},{"p":"d","s":7,"g":450,"v":3.45},
{"p":"d","s":8,"g":0,"v":10},{"p":"d","s":8,"g":10,"v":10.3},{"p":"d","s":8,"g":20,"v":10.4},{"p":"d","s":8,"g":30,"v":10.5},{"p":"d","s":8,"g":40,"v":10.5},{"p":"d","s":8,"g":50,"v":10.4},{"p":"d","s":8,"g":60,"v":10.0},{"p":"d","s":8,"g":70,"v":9.5},{"p":"d","s":8,"g":80,"v":8.8},{"p":"d","s":8,"g":90,"v":8.5},{"p":"d","s":8,"g":100,"v":8.4},{"p":"d","s":8,"g":120,"v":8.5},{"p":"d","s":8,"g":140,"v":8.3},{"p":"d","s":8,"g":160,"v":8.2},{"p":"d","s":8,"g":180,"v":8.1},{"p":"d","s":8,"g":200,"v":8.0},{"p":"d","s":8,"g":220,"v":7.8},{"p":"d","s":8,"g":240,"v":7.6},{"p":"d","s":8,"g":250,"v":7.85},{"p":"d","s":8,"g":260,"v":7.7},{"p":"d","s":8,"g":280,"v":7.5},{"p":"d","s":8,"g":300,"v":7.2},{"p":"d","s":8,"g":320,"v":6.9},{"p":"d","s":8,"g":330,"v":6.8},{"p":"d","s":8,"g":340,"v":6.2},{"p":"d","s":8,"g":350,"v":5.5},{"p":"d","s":8,"g":360,"v":5.2},{"p":"d","s":8,"g":380,"v":5.2},{"p":"d","s":8,"g":400,"v":5.0},{"p":"d","s":8,"g":420,"v":4.8},{"p":"d","s":8,"g":450,"v":4.6}
],
"bands":[
{"p":"a","s":1,"g":0,"l":0,"h":0},{"p":"a","s":1,"g":10,"l":25000,"h":33000},{"p":"a","s":1,"g":20,"l":40000,"h":51000},{"p":"a","s":1,"g":30,"l":47000,"h":58000},{"p":"a","s":1,"g":50,"l":54000,"h":66000},{"p":"a","s":1,"g":70,"l":58000,"h":71000},{"p":"a","s":1,"g":90,"l":62000,"h":74000},{"p":"a","s":1,"g":100,"l":63000,"h":75600},{"p":"a","s":1,"g":115,"l":61500,"h":76000},{"p":"a","s":1,"g":125,"l":62000,"h":76500},{"p":"a","s":1,"g":130,"l":65000,"h":76500},{"p":"a","s":1,"g":150,"l":65900,"h":77000},{"p":"a","s":1,"g":200,"l":67800,"h":79500},{"p":"a","s":1,"g":250,"l":68300,"h":80500},{"p":"a","s":1,"g":300,"l":70300,"h":81200},{"p":"a","s":1,"g":350,"l":71700,"h":82000},{"p":"a","s":1,"g":400,"l":74600,"h":83900},{"p":"a","s":1,"g":450,"l":76800,"h":85800},
{"p":"a","s":2,"g":0,"l":0,"h":0},{"p":"a","s":2,"g":20,"l":15000,"h":21000},{"p":"a","s":2,"g":50,"l":21000,"h":29000},{"p":"a","s":2,"g":80,"l":28000,"h":42000},{"p":"a","s":2,"g":100,"l":32000,"h":45000},{"p":"a","s":2,"g":150,"l":37000,"h":53000},{"p":"a","s":2,"g":200,"l":40000,"h":55000},{"p":"a","s":2,"g":250,"l":42000,"h":59000},{"p":"a","s":2,"g":300,"l":44000,"h":60000},{"p":"a","s":2,"g":350,"l":45000,"h":62000},{"p":"a","s":2,"g":400,"l":46000,"h":64000},{"p":"a","s":2,"g":450,"l":47000,"h":64000},
{"p":"a","s":3,"g":0,"l":0,"h":0},{"p":"a","s":3,"g":20,"l":13000,"h":21000},{"p":"a","s":3,"g":50,"l":18000,"h":27000},{"p":"a","s":3,"g":65,"l":16000,"h":26000},{"p":"a","s":3,"g":80,"l":20000,"h":28000},{"p":"a","s":3,"g":100,"l":22000,"h":31000},{"p":"a","s":3,"g":150,"l":25000,"h":42000},{"p":"a","s":3,"g":200,"l":26000,"h":47000},{"p":"a","s":3,"g":250,"l":30000,"h":54000},{"p":"a","s":3,"g":300,"l":36000,"h":58000},{"p":"a","s":3,"g":350,"l":42000,"h":63000},{"p":"a","s":3,"g":400,"l":47000,"h":66000},{"p":"a","s":3,"g":450,"l":50000,"h":67000},
{"p":"a","s":4,"g":0,"l":0,"h":0},{"p":"a","s":4,"g":20,"l":9000,"h":18000},{"p":"a","s":4,"g":50,"l":22000,"h":30000},{"p":"a","s":4,"g":100,"l":31000,"h":39000},{"p":"a","s":4,"g":130,"l":33000,"h":46000},{"p":"a","s":4,"g":150,"l":34000,"h":46000},{"p":"a","s":4,"g":200,"l":36000,"h":49000},{"p":"a","s":4,"g":250,"l":38000,"h":55000},{"p":"a","s":4,"g":300,"l":43000,"h":66000},{"p":"a","s":4,"g":350,"l":50000,"h":76000},{"p":"a","s":4,"g":400,"l":55000,"h":80000},{"p":"a","s":4,"g":450,"l":60000,"h":84000},
{"p":"a","s":5,"g":0,"l":0,"h":0},{"p":"a","s":5,"g":20,"l":14000,"h":22000},{"p":"a","s":5,"g":60,"l":24000,"h":35000},{"p":"a","s":5,"g":100,"l":30000,"h":42000},{"p":"a","s":5,"g":150,"l":34000,"h":45000},{"p":"a","s":5,"g":200,"l":36000,"h":47000},{"p":"a","s":5,"g":250,"l":38000,"h":51000},{"p":"a","s":5,"g":300,"l":41000,"h":54000},{"p":"a","s":5,"g":350,"l":42000,"h":57000},{"p":"a","s":5,"g":400,"l":44000,"h":59000},{"p":"a","s":5,"g":450,"l":46000,"h":61000},
{"p":"a","s":6,"g":0,"l":0,"h":0},{"p":"a","s":6,"g":20,"l":16000,"h":24000},{"p":"a","s":6,"g":30,"l":22000,"h":32000},{"p":"a","s":6,"g":60,"l":29000,"h":39000},{"p":"a","s":6,"g":100,"l":31000,"h":42000},{"p":"a","s":6,"g":150,"l":36000,"h":46000},{"p":"a","s":6,"g":200,"l":38000,"h":49000},{"p":"a","s":6,"g":300,"l":42000,"h":50000},{"p":"a","s":6,"g":350,"l":42000,"h":51000},{"p":"a","s":6,"g":400,"l":43000,"h":52000},{"p":"a","s":6,"g":450,"l":44000,"h":49000},
{"p":"a","s":7,"g":0,"l":0,"h":0},{"p":"a","s":7,"g":10,"l":8000,"h":15000},{"p":"a","s":7,"g":20,"l":15000,"h":22000},{"p":"a","s":7,"g":30,"l":18000,"h":26000},{"p":"a","s":7,"g":50,"l":21000,"h":31000},{"p":"a","s":7,"g":70,"l":23000,"h":36000},{"p":"a","s":7,"g":90,"l":25000,"h":42000},{"p":"a","s":7,"g":102,"l":26000,"h":50300},{"p":"a","s":7,"g":113,"l":27000,"h":58000},{"p":"a","s":7,"g":128,"l":28000,"h":64000},{"p":"a","s":7,"g":136,"l":29000,"h":67300},{"p":"a","s":7,"g":160,"l":31000,"h":69800},{"p":"a","s":7,"g":200,"l":33000,"h":71700},{"p":"a","s":7,"g":250,"l":34000,"h":73700},{"p":"a","s":7,"g":300,"l":35000,"h":75600},{"p":"a","s":7,"g":350,"l":38000,"h":76600},{"p":"a","s":7,"g":380,"l":42000,"h":78000},{"p":"a","s":7,"g":400,"l":48000,"h":80000},{"p":"a","s":7,"g":420,"l":54000,"h":81500},{"p":"a","s":7,"g":450,"l":58000,"h":83500},
{"p":"a","s":8,"g":0,"l":0,"h":0},{"p":"a","s":8,"g":10,"l":8000,"h":14000},{"p":"a","s":8,"g":30,"l":16000,"h":24000},{"p":"a","s":8,"g":60,"l":18000,"h":27000},{"p":"a","s":8,"g":80,"l":19500,"h":30000},{"p":"a","s":8,"g":100,"l":19500,"h":34000},{"p":"a","s":8,"g":150,"l":22000,"h":37000},{"p":"a","s":8,"g":200,"l":23000,"h":38000},{"p":"a","s":8,"g":250,"l":24000,"h":39000},{"p":"a","s":8,"g":300,"l":25000,"h":40000},{"p":"a","s":8,"g":350,"l":26000,"h":40000},{"p":"a","s":8,"g":400,"l":26000,"h":42000},{"p":"a","s":8,"g":450,"l":27000,"h":42500},
{"p":"b","s":1,"g":0,"l":10,"h":10},{"p":"b","s":1,"g":30,"l":8.0,"h":10.2},{"p":"b","s":1,"g":60,"l":7.6,"h":10.0},{"p":"b","s":1,"g":100,"l":7.3,"h":9.8},{"p":"b","s":1,"g":150,"l":7.0,"h":9.9},{"p":"b","s":1,"g":200,"l":6.6,"h":9.9},{"p":"b","s":1,"g":250,"l":6.8,"h":10.0},{"p":"b","s":1,"g":300,"l":6.5,"h":10.0},{"p":"b","s":1,"g":350,"l":6.0,"h":10.2},{"p":"b","s":1,"g":400,"l":6.5,"h":10.7},{"p":"b","s":1,"g":450,"l":6.6,"h":11.0},
{"p":"b","s":2,"g":0,"l":10,"h":10},{"p":"b","s":2,"g":20,"l":8.5,"h":11.5},{"p":"b","s":2,"g":50,"l":7.5,"h":13.5},{"p":"b","s":2,"g":70,"l":7.2,"h":14.5},{"p":"b","s":2,"g":90,"l":7.0,"h":15.8},{"p":"b","s":2,"g":150,"l":6.8,"h":16.5},{"p":"b","s":2,"g":200,"l":6.0,"h":16.5},{"p":"b","s":2,"g":250,"l":5.0,"h":16},{"p":"b","s":2,"g":300,"l":3.5,"h":15.5},{"p":"b","s":2,"g":350,"l":2.0,"h":14.5},{"p":"b","s":2,"g":400,"l":1.0,"h":14.2},{"p":"b","s":2,"g":450,"l":0.5,"h":13.0},
{"p":"b","s":3,"g":0,"l":10,"h":10},{"p":"b","s":3,"g":30,"l":8.5,"h":11.8},{"p":"b","s":3,"g":50,"l":7.8,"h":12.2},{"p":"b","s":3,"g":80,"l":6.5,"h":11.5},{"p":"b","s":3,"g":100,"l":5.2,"h":11.0},{"p":"b","s":3,"g":140,"l":4.0,"h":10.7},{"p":"b","s":3,"g":150,"l":3.0,"h":10.5},{"p":"b","s":3,"g":200,"l":2.7,"h":10.0},{"p":"b","s":3,"g":250,"l":2.0,"h":9.5},{"p":"b","s":3,"g":300,"l":1.5,"h":9.0},{"p":"b","s":3,"g":350,"l":1.5,"h":8.0},{"p":"b","s":3,"g":400,"l":1.5,"h":7.0},{"p":"b","s":3,"g":450,"l":1.5,"h":6.5},
{"p":"b","s":4,"g":0,"l":10,"h":10},{"p":"b","s":4,"g":30,"l":8.0,"h":10.5},{"p":"b","s":4,"g":60,"l":7.3,"h":10.5},{"p":"b","s":4,"g":100,"l":6.5,"h":10.3},{"p":"b","s":4,"g":140,"l":5.5,"h":10.0},{"p":"b","s":4,"g":150,"l":4.0,"h":9.8},{"p":"b","s":4,"g":200,"l":2.5,"h":9.0},{"p":"b","s":4,"g":250,"l":1.0,"h":8.0},{"p":"b","s":4,"g":290,"l":0,"h":6.5},{"p":"b","s":4,"g":350,"l":-1.5,"h":5.0},{"p":"b","s":4,"g":400,"l":-2,"h":4.5},{"p":"b","s":4,"g":450,"l":-2,"h":4.5},
{"p":"b","s":5,"g":0,"l":10,"h":10},{"p":"b","s":5,"g":20,"l":8.5,"h":12.0},{"p":"b","s":5,"g":40,"l":8.0,"h":12.7},{"p":"b","s":5,"g":60,"l":7.8,"h":12.0},{"p":"b","s":5,"g":100,"l":7.0,"h":12.0},{"p":"b","s":5,"g":150,"l":7.0,"h":12.0},{"p":"b","s":5,"g":200,"l":7.0,"h":12.0},{"p":"b","s":5,"g":250,"l":6.8,"h":12.0},{"p":"b","s":5,"g":300,"l":6.5,"h":12.5},{"p":"b","s":5,"g":350,"l":6.5,"h":14.0},{"p":"b","s":5,"g":400,"l":6.5,"h":15.5},{"p":"b","s":5,"g":450,"l":6.6,"h":16},
{"p":"b","s":6,"g":0,"l":10,"h":10},{"p":"b","s":6,"g":30,"l":8.5,"h":12.0},{"p":"b","s":6,"g":60,"l":8.5,"h":13.5},{"p":"b","s":6,"g":100,"l":8.0,"h":14.8},{"p":"b","s":6,"g":150,"l":7.5,"h":15.5},{"p":"b","s":6,"g":200,"l":7.0,"h":15.5},{"p":"b","s":6,"g":300,"l":6.5,"h":15.5},{"p":"b","s":6,"g":350,"l":6.0,"h":14.5},{"p":"b","s":6,"g":400,"l":6.0,"h":14.0},{"p":"b","s":6,"g":450,"l":6.5,"h":14.5},
{"p":"b","s":7,"g":0,"l":10,"h":10},{"p":"b","s":7,"g":20,"l":8.0,"h":11.2},{"p":"b","s":7,"g":40,"l":7.5,"h":10.8},{"p":"b","s":7,"g":60,"l":6.5,"h":10.0},{"p":"b","s":7,"g":70,"l":5.0,"h":9.8},{"p":"b","s":7,"g":80,"l":3.5,"h":9.5},{"p":"b","s":7,"g":100,"l":2.0,"h":9.0},{"p":"b","s":7,"g":120,"l":0.8,"h":8.5},{"p":"b","s":7,"g":150,"l":0.6,"h":7.5},{"p":"b","s":7,"g":200,"l":0.5,"h":7.0},{"p":"b","s":7,"g":230,"l":0,"h":6.5},{"p":"b","s":7,"g":260,"l":-1,"h":6.5},{"p":"b","s":7,"g":300,"l":-1,"h":6.0},{"p":"b","s":7,"g":350,"l":-1,"h":5.8},{"p":"b","s":7,"g":400,"l":-1,"h":6.5},{"p":"b","s":7,"g":450,"l":-1,"h":7.0},
{"p":"b","s":8,"g":0,"l":10,"h":10},{"p":"b","s":8,"g":20,"l":8.5,"h":10.5},{"p":"b","s":8,"g":50,"l":7.5,"h":11.5},{"p":"b","s":8,"g":100,"l":8.0,"h":13.0},{"p":"b","s":8,"g":150,"l":8.0,"h":14.5},{"p":"b","s":8,"g":200,"l":8.5,"h":17},{"p":"b","s":8,"g":250,"l":7.0,"h":17},{"p":"b","s":8,"g":300,"l":5.0,"h":17},{"p":"b","s":8,"g":350,"l":3.0,"h":17},{"p":"b","s":8,"g":400,"l":2.0,"h":17},{"p":"b","s":8,"g":450,"l":1.0,"h":16},
{"p":"c","s":1,"g":0,"l":0,"h":0},{"p":"c","s":1,"g":5,"l":26000,"h":34000},{"p":"c","s":1,"g":10,"l":45000,"h":55000},{"p":"c","s":1,"g":20,"l":62000,"h":69000},{"p":"c","s":1,"g":50,"l":73500,"h":78000},{"p":"c","s":1,"g":100,"l":78500,"h":82500},{"p":"c","s":1,"g":200,"l":82000,"h":85500},{"p":"c","s":1,"g":300,"l":83500,"h":87000},{"p":"c","s":1,"g":400,"l":84500,"h":88000},{"p":"c","s":1,"g":450,"l":84500,"h":88000},
{"p":"c","s":2,"g":0,"l":0,"h":0},{"p":"c","s":2,"g":20,"l":15000,"h":21000},{"p":"c","s":2,"g":50,"l":32000,"h":40000},{"p":"c","s":2,"g":80,"l":38000,"h":55000},{"p":"c","s":2,"g":100,"l":43000,"h":60000},{"p":"c","s":2,"g":150,"l":50000,"h":67000},{"p":"c","s":2,"g":200,"l":55000,"h":71000},{"p":"c","s":2,"g":250,"l":60000,"h":74000},{"p":"c","s":2,"g":300,"l":64000,"h":77000},{"p":"c","s":2,"g":350,"l":66000,"h":77000},{"p":"c","s":2,"g":400,"l":68000,"h":78000},{"p":"c","s":2,"g":450,"l":69000,"h":80000},
{"p":"c","s":3,"g":0,"l":0,"h":0},{"p":"c","s":3,"g":20,"l":16000,"h":22000},{"p":"c","s":3,"g":50,"l":38000,"h":46000},{"p":"c","s":3,"g":100,"l":53000,"h":61000},{"p":"c","s":3,"g":150,"l":60000,"h":69000},{"p":"c","s":3,"g":200,"l":66000,"h":74000},{"p":"c","s":3,"g":300,"l":71000,"h":79000},{"p":"c","s":3,"g":400,"l":72000,"h":80000},{"p":"c","s":3,"g":450,"l":73000,"h":81000},
{"p":"c","s":4,"g":0,"l":0,"h":0},{"p":"c","s":4,"g":20,"l":14000,"h":20000},{"p":"c","s":4,"g":30,"l":20000,"h":36000},{"p":"c","s":4,"g":50,"l":30000,"h":55000},{"p":"c","s":4,"g":70,"l":33000,"h":68000},{"p":"c","s":4,"g":90,"l":38000,"h":71000},{"p":"c","s":4,"g":150,"l":52000,"h":76000},{"p":"c","s":4,"g":200,"l":60000,"h":80000},{"p":"c","s":4,"g":250,"l":65000,"h":83000},{"p":"c","s":4,"g":300,"l":67000,"h":84000},{"p":"c","s":4,"g":350,"l":69000,"h":85000},{"p":"c","s":4,"g":400,"l":71000,"h":86000},{"p":"c","s":4,"g":450,"l":74000,"h":86000},
{"p":"c","s":5,"g":0,"l":0,"h":0},{"p":"c","s":5,"g":20,"l":15000,"h":21000},{"p":"c","s":5,"g":60,"l":32000,"h":48000},{"p":"c","s":5,"g":80,"l":34000,"h":60000},{"p":"c","s":5,"g":100,"l":36000,"h":64000},{"p":"c","s":5,"g":150,"l":40000,"h":67000},{"p":"c","s":5,"g":200,"l":46000,"h":68000},{"p":"c","s":5,"g":250,"l":50000,"h":70000},{"p":"c","s":5,"g":300,"l":54000,"h":72000},{"p":"c","s":5,"g":350,"l":57000,"h":73000},{"p":"c","s":5,"g":400,"l":59000,"h":76000},{"p":"c","s":5,"g":450,"l":60000,"h":76000},
{"p":"c","s":6,"g":0,"l":0,"h":0},{"p":"c","s":6,"g":20,"l":13000,"h":19000},{"p":"c","s":6,"g":50,"l":27000,"h":37000},{"p":"c","s":6,"g":100,"l":33000,"h":46000},{"p":"c","s":6,"g":150,"l":38000,"h":52000},{"p":"c","s":6,"g":200,"l":42000,"h":54000},{"p":"c","s":6,"g":300,"l":44000,"h":56000},{"p":"c","s":6,"g":400,"l":47000,"h":58000},{"p":"c","s":6,"g":450,"l":49000,"h":58000},
{"p":"c","s":7,"g":0,"l":0,"h":0},{"p":"c","s":7,"g":20,"l":15000,"h":21000},{"p":"c","s":7,"g":40,"l":20000,"h":35000},{"p":"c","s":7,"g":60,"l":22000,"h":53000},{"p":"c","s":7,"g":70,"l":24000,"h":58000},{"p":"c","s":7,"g":80,"l":26000,"h":63000},{"p":"c","s":7,"g":100,"l":28000,"h":68000},{"p":"c","s":7,"g":150,"l":32000,"h":72000},{"p":"c","s":7,"g":200,"l":40000,"h":74000},{"p":"c","s":7,"g":250,"l":50000,"h":76000},{"p":"c","s":7,"g":300,"l":57000,"h":79000},{"p":"c","s":7,"g":350,"l":60000,"h":81000},{"p":"c","s":7,"g":400,"l":64000,"h":84000},{"p":"c","s":7,"g":450,"l":66000,"h":85000},
{"p":"c","s":8,"g":0,"l":0,"h":0},{"p":"c","s":8,"g":20,"l":15000,"h":21000},{"p":"c","s":8,"g":30,"l":19000,"h":24000},{"p":"c","s":8,"g":60,"l":22000,"h":30000},{"p":"c","s":8,"g":80,"l":21000,"h":42000},{"p":"c","s":8,"g":100,"l":20500,"h":50000},{"p":"c","s":8,"g":130,"l":20000,"h":55000},{"p":"c","s":8,"g":160,"l":21500,"h":59000},{"p":"c","s":8,"g":200,"l":24500,"h":62000},{"p":"c","s":8,"g":250,"l":28000,"h":68000},{"p":"c","s":8,"g":280,"l":33000,"h":70000},{"p":"c","s":8,"g":300,"l":36000,"h":72000},{"p":"c","s":8,"g":350,"l":41000,"h":75000},{"p":"c","s":8,"g":400,"l":44000,"h":78000},{"p":"c","s":8,"g":450,"l":48000,"h":82000},
{"p":"d","s":1,"g":0,"l":10,"h":10},{"p":"d","s":1,"g":20,"l":9.8,"h":11.5},{"p":"d","s":1,"g":50,"l":9.8,"h":11.8},{"p":"d","s":1,"g":100,"l":9.6,"h":12.1},{"p":"d","s":1,"g":150,"l":9.8,"h":12.2},{"p":"d","s":1,"g":200,"l":9.8,"h":12.0},{"p":"d","s":1,"g":250,"l":9.5,"h":11.8},{"p":"d","s":1,"g":300,"l":9.3,"h":11.5},{"p":"d","s":1,"g":400,"l":8.8,"h":11.5},{"p":"d","s":1,"g":450,"l":8.6,"h":11.5},
{"p":"d","s":2,"g":0,"l":10,"h":10},{"p":"d","s":2,"g":20,"l":9.0,"h":10.8},{"p":"d","s":2,"g":50,"l":7.5,"h":11.0},{"p":"d","s":2,"g":70,"l":5.0,"h":11.3},{"p":"d","s":2,"g":85,"l":3.8,"h":11.7},{"p":"d","s":2,"g":100,"l":3.7,"h":11.0},{"p":"d","s":2,"g":120,"l":3.0,"h":11.0},{"p":"d","s":2,"g":150,"l":3.2,"h":11.0},{"p":"d","s":2,"g":200,"l":2.8,"h":11.0},{"p":"d","s":2,"g":250,"l":2.5,"h":11.0},{"p":"d","s":2,"g":300,"l":2.0,"h":10.5},{"p":"d","s":2,"g":350,"l":1.5,"h":10.0},{"p":"d","s":2,"g":400,"l":1.6,"h":10.0},{"p":"d","s":2,"g":450,"l":1.8,"h":9.7},
{"p":"d","s":3,"g":0,"l":10,"h":10},{"p":"d","s":3,"g":10,"l":8.0,"h":10.5},{"p":"d","s":3,"g":20,"l":5.5,"h":10.5},{"p":"d","s":3,"g":30,"l":4.0,"h":10.6},{"p":"d","s":3,"g":50,"l":2.0,"h":10.8},{"p":"d","s":3,"g":80,"l":1.2,"h":10.6},{"p":"d","s":3,"g":100,"l":0.9,"h":10.5},{"p":"d","s":3,"g":130,"l":0.5,"h":10.5},{"p":"d","s":3,"g":160,"l":0,"h":10.5},{"p":"d","s":3,"g":200,"l":-1,"h":8.0},{"p":"d","s":3,"g":250,"l":-1,"h":7.5},{"p":"d","s":3,"g":300,"l":-1,"h":7.0},{"p":"d","s":3,"g":350,"l":-1,"h":6.0},{"p":"d","s":3,"g":400,"l":-1,"h":6.0},{"p":"d","s":3,"g":450,"l":-1,"h":6.0},
{"p":"d","s":4,"g":0,"l":10,"h":10},{"p":"d","s":4,"g":20,"l":7.0,"h":10.5},{"p":"d","s":4,"g":30,"l":2.0,"h":10.3},{"p":"d","s":4,"g":50,"l":0.5,"h":10.0},{"p":"d","s":4,"g":100,"l":0.2,"h":9.5},{"p":"d","s":4,"g":150,"l":0.2,"h":9.0},{"p":"d","s":4,"g":200,"l":0.2,"h":8.5},{"p":"d","s":4,"g":260,"l":0.2,"h":8.5},{"p":"d","s":4,"g":275,"l":-1,"h":8.5},{"p":"d","s":4,"g":300,"l":-1,"h":8.5},{"p":"d","s":4,"g":350,"l":-1,"h":9.0},{"p":"d","s":4,"g":400,"l":-1,"h":10.0},{"p":"d","s":4,"g":450,"l":-1,"h":10.0},
{"p":"d","s":5,"g":0,"l":10,"h":10},{"p":"d","s":5,"g":20,"l":8.0,"h":10.5},{"p":"d","s":5,"g":50,"l":6.0,"h":10.8},{"p":"d","s":5,"g":70,"l":5.0,"h":10.7},{"p":"d","s":5,"g":100,"l":4.0,"h":10.5},{"p":"d","s":5,"g":150,"l":3.8,"h":10.0},{"p":"d","s":5,"g":200,"l":3.6,"h":9.5},{"p":"d","s":5,"g":250,"l":3.5,"h":9.5},{"p":"d","s":5,"g":300,"l":3.3,"h":9.0},{"p":"d","s":5,"g":350,"l":3.0,"h":8.5},{"p":"d","s":5,"g":400,"l":3.0,"h":8.0},{"p":"d","s":5,"g":450,"l":3.0,"h":8.0},
{"p":"d","s":6,"g":0,"l":10,"h":10},{"p":"d","s":6,"g":20,"l":9.8,"h":11.2},{"p":"d","s":6,"g":50,"l":9.5,"h":11.5},{"p":"d","s":6,"g":100,"l":9.0,"h":12.0},{"p":"d","s":6,"g":150,"l":8.5,"h":12.5},{"p":"d","s":6,"g":190,"l":8.5,"h":12.8},{"p":"d","s":6,"g":200,"l":8.5,"h":13.5},{"p":"d","s":6,"g":210,"l":8.5,"h":14.0},{"p":"d","s":6,"g":250,"l":8.5,"h":14.5},{"p":"d","s":6,"g":300,"l":8.5,"h":14.6},{"p":"d","s":6,"g":350,"l":8.5,"h":14.3},{"p":"d","s":6,"g":400,"l":8.5,"h":15.0},{"p":"d","s":6,"g":450,"l":9.0,"h":15.5},
{"p":"d","s":7,"g":0,"l":10,"h":10},{"p":"d","s":7,"g":5,"l":10,"h":11.5},{"p":"d","s":7,"g":15,"l":9.3,"h":13.0},{"p":"d","s":7,"g":30,"l":8.5,"h":13.2},{"p":"d","s":7,"g":50,"l":7.5,"h":12.6},{"p":"d","s":7,"g":70,"l":6.0,"h":12.8},{"p":"d","s":7,"g":80,"l":5.0,"h":13.5},{"p":"d","s":7,"g":90,"l":4.5,"h":13.9},{"p":"d","s":7,"g":100,"l":4.0,"h":13.9},{"p":"d","s":7,"g":120,"l":3.9,"h":13.5},{"p":"d","s":7,"g":150,"l":3.8,"h":13.0},{"p":"d","s":7,"g":180,"l":3.5,"h":12.7},{"p":"d","s":7,"g":200,"l":2.5,"h":12.3},{"p":"d","s":7,"g":220,"l":1.0,"h":11.8},{"p":"d","s":7,"g":250,"l":0,"h":11.0},{"p":"d","s":7,"g":270,"l":-1,"h":10.5},{"p":"d","s":7,"g":300,"l":-1,"h":10.5},{"p":"d","s":7,"g":330,"l":-1,"h":9.0},{"p":"d","s":7,"g":340,"l":-1,"h":8.5},{"p":"d","s":7,"g":400,"l":-1,"h":8.0},{"p":"d","s":7,"g":450,"l":-1,"h":7.8},
{"p":"d","s":8,"g":0,"l":10,"h":10},{"p":"d","s":8,"g":20,"l":9.5,"h":11.0},{"p":"d","s":8,"g":50,"l":8.5,"h":11.5},{"p":"d","s":8,"g":80,"l":4.5,"h":12.0},{"p":"d","s":8,"g":100,"l":3.8,"h":12.0},{"p":"d","s":8,"g":150,"l":3.5,"h":12.5},{"p":"d","s":8,"g":200,"l":3.2,"h":12.5},{"p":"d","s":8,"g":250,"l":3.0,"h":12.0},{"p":"d","s":8,"g":300,"l":2.5,"h":11.0},{"p":"d","s":8,"g":330,"l":2.0,"h":10.5},{"p":"d","s":8,"g":340,"l":1.0,"h":10.0},{"p":"d","s":8,"g":350,"l":0.7,"h":10.0},{"p":"d","s":8,"g":400,"l":0.7,"h":10.5},{"p":"d","s":8,"g":450,"l":0.7,"h":10.0}
]
},
"hconcat":[
{"bounds":"flush","spacing":0,"vconcat":[
{"width":454,"height":19,"view":{"stroke":null,"fill":"white"},"data":{"values":[{"k":1}]},"mark":{"type":"point","opacity":0,"size":1},"encoding":{}},
{"bounds":"flush","spacing":52,"vconcat":[
{"width":454,"height":301,"layer":[
{"data":{"name":"bands"},"transform":[{"filter":"datum.p=='a'"}],"mark":{"type":"area","clip":true,"fillOpacity":0.2},"encoding":{"x":{"field":"g","type":"quantitative","scale":{"domain":[-22.5,472.5],"nice":false,"zero":false},"axis":{"title":"Generation","values":[0,100,200,300,400]}},"y":{"field":"l","type":"quantitative","scale":{"domain":[0,87500],"nice":false},"axis":{"title":"Energy","values":[0,10000,20000,30000,40000,50000,60000,70000,80000],"format":"d"}},"y2":{"field":"h"},"fill":{"field":"s","type":"nominal","scale":{"range":["#0000ff","#00ff00","#ff0000","#00ffff","#ff00ff","#ffff00","#000080","#008000"]},"legend":null}}},
{"data":{"name":"lines"},"transform":[{"filter":"datum.p=='a'"}],"mark":{"type":"line","clip":true,"strokeWidth":1.4},"encoding":{"x":{"field":"g","type":"quantitative","scale":{"domain":[-22.5,472.5],"nice":false,"zero":false},"axis":{"title":"Generation","values":[0,100,200,300,400]}},"y":{"field":"v","type":"quantitative","scale":{"domain":[0,87500],"nice":false},"axis":{"title":"Energy","values":[0,10000,20000,30000,40000,50000,60000,70000,80000],"format":"d"}},"stroke":{"field":"s","type":"nominal","scale":{"domain":[1,2,3,4,5,6,7,8],"range":["#0000ff","#00ff00","#ff0000","#00ffff","#ff00ff","#ffff00","#000080","#008000"]},"legend":{"title":null,"orient":"top-left","offset":5,"labelExpr":"'No. Sources: ' + datum.label"}}}}
]},
{"width":454,"height":301,"layer":[
{"data":{"name":"bands"},"transform":[{"filter":"datum.p=='c'"}],"mark":{"type":"area","clip":true,"fillOpacity":0.2},"encoding":{"x":{"field":"g","type":"quantitative","scale":{"domain":[-22.5,472.5],"nice":false,"zero":false},"axis":{"title":"Generation","values":[0,100,200,300,400]}},"y":{"field":"l","type":"quantitative","scale":{"domain":[0,87500],"nice":false},"axis":{"title":"Energy","values":[0,10000,20000,30000,40000,50000,60000,70000,80000],"format":"d"}},"y2":{"field":"h"},"fill":{"field":"s","type":"nominal","scale":{"range":["#0000ff","#00ff00","#ff0000","#00ffff","#ff00ff","#ffff00","#000080","#008000"]},"legend":null}}},
{"data":{"name":"lines"},"transform":[{"filter":"datum.p=='c'"}],"mark":{"type":"line","clip":true,"strokeWidth":1.4},"encoding":{"x":{"field":"g","type":"quantitative","scale":{"domain":[-22.5,472.5],"nice":false,"zero":false},"axis":{"title":"Generation","values":[0,100,200,300,400]}},"y":{"field":"v","type":"quantitative","scale":{"domain":[0,87500],"nice":false},"axis":{"title":"Energy","values":[0,10000,20000,30000,40000,50000,60000,70000,80000],"format":"d"}},"stroke":{"field":"s","type":"nominal","scale":{"domain":[1,2,3,4,5,6,7,8],"range":["#0000ff","#00ff00","#ff0000","#00ffff","#ff00ff","#ffff00","#000080","#008000"]},"legend":{"title":null,"orient":"bottom-right","offset":5,"labelExpr":"'No. Sources: ' + datum.label"}}}}
]}
],"resolve":{"scale":{"fill":"independent","stroke":"independent"},"legend":{"stroke":"independent"}}}
],"resolve":{"scale":{"fill":"independent","stroke":"independent"},"legend":{"stroke":"independent"}}},
{"bounds":"flush","spacing":38,"vconcat":[
{"width":469,"height":318,"layer":[
{"data":{"name":"bands"},"transform":[{"filter":"datum.p=='b'"}],"mark":{"type":"area","clip":true,"fillOpacity":0.2},"encoding":{"x":{"field":"g","type":"quantitative","scale":{"domain":[-22.5,463.5],"nice":false,"zero":false},"axis":{"title":"Generation","values":[0,100,200,300,400],"titleX":238.5}},"y":{"field":"l","type":"quantitative","scale":{"domain":[0,15],"nice":false},"axis":{"title":"Average Distance Range","values":[0,2,4,6,8,10,12,14]}},"y2":{"field":"h"},"fill":{"field":"s","type":"nominal","scale":{"range":["#0000ff","#00ff00","#ff0000","#00ffff","#ff00ff","#ffff00","#000080","#008000"]},"legend":null}}},
{"data":{"name":"lines"},"transform":[{"filter":"datum.p=='b'"}],"mark":{"type":"line","clip":true,"strokeWidth":1.4},"encoding":{"x":{"field":"g","type":"quantitative","scale":{"domain":[-22.5,463.5],"nice":false,"zero":false},"axis":{"title":"Generation","values":[0,100,200,300,400],"titleX":238.5}},"y":{"field":"v","type":"quantitative","scale":{"domain":[0,15],"nice":false},"axis":{"title":"Average Distance Range","values":[0,2,4,6,8,10,12,14]}},"stroke":{"field":"s","type":"nominal","scale":{"domain":[1,2,3,4,5,6,7,8],"range":["#0000ff","#00ff00","#ff0000","#00ffff","#ff00ff","#ffff00","#000080","#008000"]},"legend":{"title":null,"orient":"bottom-left","offset":5,"labelExpr":"'No. Sources: ' + datum.label"}}}}
]},
{"width":469,"height":315,"layer":[
{"data":{"name":"bands"},"transform":[{"filter":"datum.p=='d'"}],"mark":{"type":"area","clip":true,"fillOpacity":0.2},"encoding":{"x":{"field":"g","type":"quantitative","scale":{"domain":[-22.5,463.5],"nice":false,"zero":false},"axis":{"title":"Generation","values":[0,100,200,300,400],"titleX":238.5}},"y":{"field":"l","type":"quantitative","scale":{"domain":[0,15],"nice":false},"axis":{"title":"Average Distance Range","values":[0,2,4,6,8,10,12,14]}},"y2":{"field":"h"},"fill":{"field":"s","type":"nominal","scale":{"range":["#0000ff","#00ff00","#ff0000","#00ffff","#ff00ff","#ffff00","#000080","#008000"]},"legend":null}}},
{"data":{"name":"lines"},"transform":[{"filter":"datum.p=='d'"}],"mark":{"type":"line","clip":true,"strokeWidth":1.4},"encoding":{"x":{"field":"g","type":"quantitative","scale":{"domain":[-22.5,463.5],"nice":false,"zero":false},"axis":{"title":"Generation","values":[0,100,200,300,400],"titleX":238.5}},"y":{"field":"v","type":"quantitative","scale":{"domain":[0,15],"nice":false},"axis":{"title":"Average Distance Range","values":[0,2,4,6,8,10,12,14]}},"stroke":{"field":"s","type":"nominal","scale":{"domain":[1,2,3,4,5,6,7,8],"range":["#0000ff","#00ff00","#ff0000","#00ffff","#ff00ff","#ffff00","#000080","#008000"]},"legend":{"title":null,"orient":"bottom-left","offset":5,"labelExpr":"'No. Sources: ' + datum.label"}}}}
]}
],"resolve":{"scale":{"fill":"independent","stroke":"independent"},"legend":{"stroke":"independent"}}}
],
"spacing":40,
"resolve":{"scale":{"fill":"independent","stroke":"independent"},"legend":{"stroke":"independent"}}
}
